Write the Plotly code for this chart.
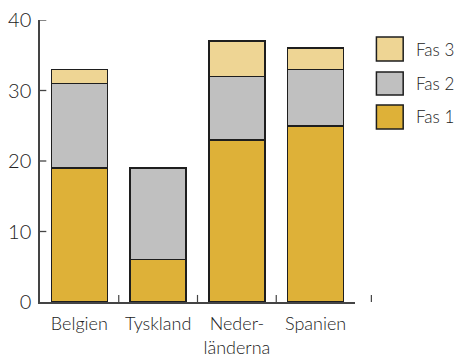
import plotly.graph_objects as go

countries = ["Belgien", "Tyskland", "Neder-<br>länderna", "Spanien"]
fas1 = [19, 6, 23, 25]
fas2 = [12, 13, 9, 8]
fas3 = [2, None, 5, 3]
series_names = ["Fas 1", "Fas 2", "Fas 3"]
y_ticks = [0, 10, 20, 30, 40]
y_ticktext = ["0", "10", "20", "30", "40"]

colors = {"Fas 1": "#DEB138", "Fas 2": "#C0C0C0", "Fas 3": "#EED594"}
line_color = "#1e1e1e"
text_color = "#222222"
font_family = "Lato, 'Open Sans', sans-serif"

fig = go.Figure()
for name, vals in zip(series_names, [fas1, fas2, fas3]):
    fig.add_trace(go.Bar(
        x=countries, y=vals, name=name,
        marker=dict(color=colors[name], line=dict(color=line_color, width=1.5)),
        showlegend=False, hoverinfo="skip",
    ))

fig.update_layout(
    width=457, height=356,
    barmode="stack", bargap=0.29,
    margin=dict(l=39.5, r=101.5, t=20, b=54, autoexpand=False),
    paper_bgcolor="white", plot_bgcolor="white",
    font=dict(family=font_family, color=text_color, weight=300),
)
fig.update_xaxes(
    range=[-0.5, 3.5], showline=True, linecolor="#444444", linewidth=1.5,
    ticks="", showgrid=False, tickfont=dict(size=18, color=text_color, weight=300),
    ticklabelstandoff=5, automargin=False,
)
fig.update_yaxes(
    range=[0, 40], tickvals=y_ticks, ticktext=y_ticktext,
    showline=True, linecolor="#444444", linewidth=1.5,
    ticks="", showgrid=False, zeroline=False,
    tickfont=dict(size=20, color=text_color, weight=300),
    ticklabelstandoff=3, automargin=False,
)

shapes = []
# y axis ticks (inside)
for yv in [10, 20, 30, 40]:
    shapes.append(dict(type="line", xref="paper", yref="y", x0=0, x1=0.02, y0=yv, y1=yv,
                       line=dict(color="#444444", width=1.3)))
# category boundary ticks on x axis
for bx in [0.5, 1.5, 2.5]:
    shapes.append(dict(type="line", xref="x", yref="paper", x0=bx, x1=bx, y0=0, y1=0.025,
                       line=dict(color="#444444", width=1.2)))
shapes.append(dict(type="line", xref="paper", yref="paper", x0=1.052, x1=1.052, y0=0, y1=0.025,
                   line=dict(color="#444444", width=1.2)))

# custom legend
legend_rows = [("Fas 3", 0.9397, 0.8546), ("Fas 2", 0.8156, 0.734), ("Fas 1", 0.6986, 0.6135)]
annotations = []
for name, ytop, ybot in legend_rows:
    shapes.append(dict(type="rect", xref="paper", yref="paper", x0=1.068, x1=1.153, y0=ybot, y1=ytop,
                       fillcolor=colors[name], line=dict(color=line_color, width=1.5)))
    annotations.append(dict(xref="paper", yref="paper", x=1.188, y=(ytop + ybot) / 2,
                            text=name, showarrow=False, xanchor="left", yanchor="middle",
                            font=dict(size=17, color=text_color, family=font_family, weight=300)))

fig.update_layout(shapes=shapes, annotations=annotations)
fig.write_html("out.html", config={"displayModeBar": False},
               post_script="document.body.style.margin='0';")
